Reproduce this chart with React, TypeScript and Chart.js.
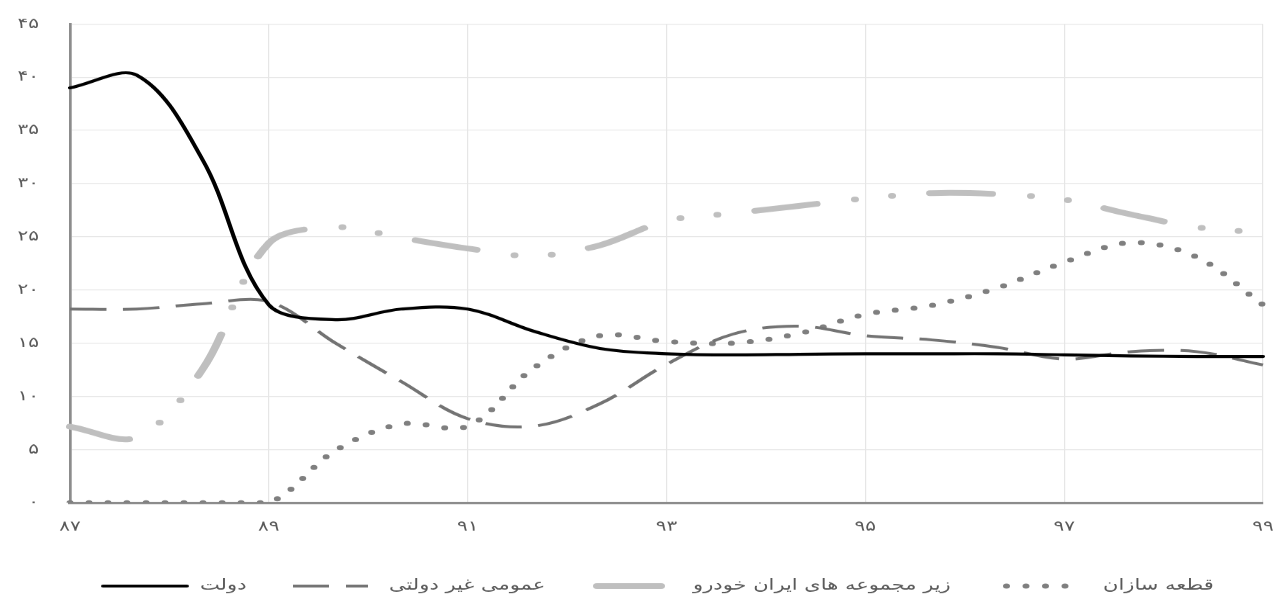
import React, { useEffect, useRef } from 'react';
import { Chart, registerables } from 'chart.js';

Chart.register(...registerables);

// x positions (years) of the sampled points
const periods = [87, 87.67, 88.33, 89, 89.67, 90.33, 91, 91.67, 92.33, 93, 93.67, 94.33, 95, 95.67, 96.33, 97, 97.67, 98.33, 99];

const seriesNames = ['دولت', 'عمومی غیر دولتی', 'زیر مجموعه های ایران خودرو', 'قطعه سازان'];

const dolat = [39.0, 40.2, 32.3, 18.6, 17.2, 18.2, 18.2, 16.1, 14.5, 14.0, 13.9, 13.95, 14.0, 14.0, 14.0, 13.9, 13.8, 13.75, 13.75];
const omumiGheyreDolati = [18.2, 18.2, 18.7, 18.9, 15.0, 11.4, 7.9, 7.2, 9.3, 13.0, 15.85, 16.6, 15.7, 15.3, 14.6, 13.5, 14.2, 14.2, 12.95];
const zirMajmueIranKhodro = [7.15, 6.15, 12.5, 24.4, 25.9, 24.9, 23.9, 23.2, 24.2, 26.5, 27.2, 27.9, 28.6, 29.1, 29.0, 28.5, 27.1, 25.9, 25.4];
const ghateSazan = [0, 0, 0, 0, 4.9, 7.4, 7.2, 12.7, 15.7, 15.15, 15.0, 15.9, 17.7, 18.55, 20.2, 22.6, 24.45, 23.1, 18.6];

const xTickValues = [87, 89, 91, 93, 95, 97, 99];
const yTickValues = [0, 5, 10, 15, 20, 25, 30, 35, 40, 45];

const FA_DIGITS = '۰۱۲۳۴۵۶۷۸۹';
const toFa = (n: number) => String(n).replace(/\d/g, (d) => FA_DIGITS[Number(d)]);

const FONT = '"DejaVu Sans", "Noto Sans", sans-serif';

// the picture is drawn on a taller canvas and squeezed vertically
const W = 1284;
const H = 832;
const SQUEEZE = 599 / H;

const pts = (ys: number[]) => ys.map((y, i) => ({ x: periods[i], y }));

// legend layout: [sampleStart, sampleEnd, textStart] for each item
const LEGEND_SLOTS = [
  [101, 189, 200],
  [293, 368, 389],
  [593, 665, 693],
  [1003, 1087, 1103],
];

const legendPlugin = {
  id: 'customLegend',
  afterDraw(chart: any) {
    const ctx = chart.ctx as CanvasRenderingContext2D;
    ctx.save();
    ctx.font = `21px ${FONT}`;
    const y = 814;
    chart.data.datasets.forEach((ds: any, i: number) => {
      const [s0, s1, t0] = LEGEND_SLOTS[i];
      ctx.save();
      ctx.beginPath();
      ctx.strokeStyle = ds.borderColor;
      ctx.lineWidth = ds.borderWidth;
      ctx.lineCap = ds.borderCapStyle || 'butt';
      ctx.setLineDash(ds.legendDash || []);
      const inset = ds.borderCapStyle === 'round' ? ds.borderWidth / 2 : 0;
      ctx.moveTo(s0 + inset, y);
      ctx.lineTo(s1 - inset, y);
      ctx.stroke();
      ctx.restore();
      ctx.fillStyle = '#595959';
      ctx.textAlign = 'left';
      ctx.textBaseline = 'middle';
      ctx.fillText(ds.label, t0, y);
    });
    ctx.restore();
  },
};

const lineClip = { left: 4, top: 4, right: 4, bottom: 0 };

export default function App() {
  const canvasRef = useRef<HTMLCanvasElement | null>(null);

  useEffect(() => {
    if (!canvasRef.current) return;
    const chart = new Chart(canvasRef.current, {
      type: 'line',
      data: {
        datasets: [
          {
            label: seriesNames[0],
            data: pts(dolat),
            borderColor: '#000000',
            borderWidth: 4.2,
            borderCapStyle: 'round',
            borderJoinStyle: 'round',
            clip: lineClip,
            legendDash: [],
          } as any,
          {
            label: seriesNames[1],
            data: pts(omumiGheyreDolati),
            borderColor: '#737373',
            borderWidth: 4,
            borderDash: [36.5, 16.5],
            borderCapStyle: 'butt',
            borderJoinStyle: 'round',
            clip: lineClip,
            legendDash: [36, 17],
          } as any,
          {
            label: seriesNames[2],
            data: pts(zirMajmueIranKhodro),
            borderColor: '#bfbfbf',
            borderWidth: 8,
            borderDash: [62, 39, 0, 37.3, 0, 38.3],
            borderCapStyle: 'round',
            borderJoinStyle: 'round',
            clip: lineClip,
            legendDash: [],
          } as any,
          {
            label: seriesNames[3],
            data: pts(ghateSazan),
            borderColor: '#7f7f7f',
            borderWidth: 7,
            borderDash: [0, 19],
            borderCapStyle: 'round',
            borderJoinStyle: 'round',
            clip: lineClip,
            legendDash: [0, 19.5],
          } as any,
        ],
      },
      options: {
        responsive: false,
        maintainAspectRatio: false,
        animation: false,
        devicePixelRatio: 1,
        events: [],
        layout: { padding: { left: 0, right: 21, top: 33.3, bottom: 73.8 } },
        elements: {
          point: { radius: 0 },
          line: { tension: 0.35, fill: false },
        },
        plugins: {
          legend: { display: false },
          tooltip: { enabled: false },
        },
        scales: {
          x: {
            type: 'linear',
            min: 87,
            max: 99,
            afterBuildTicks: (s: any) => {
              s.ticks = xTickValues.map((v) => ({ value: v }));
            },
            afterFit: (s: any) => {
              s.height = 60;
              s.paddingLeft = 0;
              s.paddingRight = 0;
            },
            grid: { color: '#e6e6e6', lineWidth: 1.2, drawTicks: false },
            border: { color: '#8c8c8c', width: 3.2 },
            ticks: {
              padding: 22,
              color: '#595959',
              font: { family: FONT, size: 20 },
              maxRotation: 0,
              callback: (v: any) => toFa(v),
            },
          },
          y: {
            min: 0,
            max: 45,
            afterBuildTicks: (s: any) => {
              s.ticks = yTickValues.map((v) => ({ value: v }));
            },
            afterFit: (s: any) => {
              s.width = 70;
              s.paddingTop = 8;
              s.paddingBottom = 8;
            },
            grid: { color: '#e6e6e6', lineWidth: 1.2, drawTicks: false },
            border: { color: '#8c8c8c', width: 2.7 },
            ticks: {
              padding: 31,
              color: '#595959',
              font: { family: FONT, size: 20 },
              callback: (v: any) => toFa(v),
            },
          },
        },
      },
      plugins: [legendPlugin],
    } as any);
    return () => chart.destroy();
  }, []);

  return (
    <div style={{ position: 'fixed', left: 0, top: 0, width: W, height: 599, overflow: 'hidden', background: '#ffffff' }}>
      <canvas
        ref={canvasRef}
        width={W}
        height={H}
        style={{
          display: 'block',
          width: W,
          height: H,
          transform: `scaleY(${SQUEEZE})`,
          transformOrigin: '0 0',
        }}
      />
    </div>
  );
}
